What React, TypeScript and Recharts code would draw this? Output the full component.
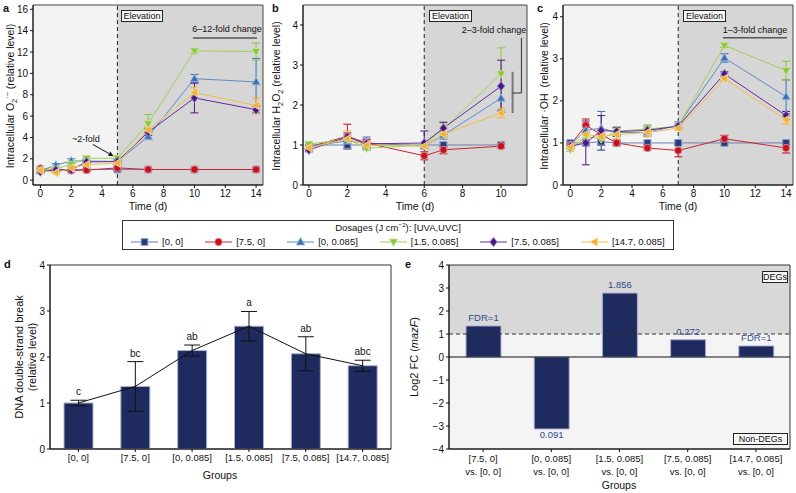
import React from 'react';
import {
  ComposedChart, Line, Bar, XAxis, YAxis, ErrorBar,
  ReferenceArea, ReferenceLine, LabelList,
} from 'recharts';

const FONT = '"Liberation Sans", Arial, Helvetica, sans-serif';

// ---------- series (legend) ----------
const DOSAGES = ['[0, 0]', '[7.5, 0]', '[0, 0.085]', '[1.5, 0.085]', '[7.5, 0.085]', '[14.7, 0.085]'];
const SHAPES = ['square', 'circle', 'up', 'down', 'diamond', 'left'];
const FILLS = ['#233a7c', '#c3141e', '#3b71b3', '#8cc63e', '#4a1786', '#f1b132'];
const LINES = ['#6f80b5', '#c8242d', '#5b8cc8', '#9fd055', '#5e2c9a', '#f3bd4d'];
const EDGES = ['#8d9cc6', '#e58f94', '#9cb9dd', '#c8e4a2', '#a78dc6', '#f8d996'];

// ---------- panel a : superoxide ----------
const A_TIMES = [0, 1, 2, 3, 5, 7, 10, 14];
const A_00 = [0.9, 1.0, 1.0, 1.0, 1.0, 1.0, 1.0, 1.0];
const A_75_0 = [1.1, 0.95, 0.9, 0.95, 1.15, 1.0, 1.0, 1.0];
const A_0_085 = [0.9, 1.4, 1.8, 1.8, 1.75, 4.1, 9.5, 9.2];
const A_15_085 = [0.95, 1.05, 1.5, 2.05, 2.05, 5.3, 12.1, 12.05];
const A_75_085 = [0.8, 0.95, 1.0, 1.7, 1.75, 4.5, 7.7, 6.6];
const A_147_085 = [0.9, 0.7, 1.15, 1.45, 1.6, 4.7, 8.2, 7.0];
const A_ERR_00 = [0.05, 0.05, 0.05, 0.05, 0.1, 0.05, 0.05, 0.05];
const A_ERR_75_0 = [0.15, 0.1, 0.1, 0.1, 0.15, 0.1, 0.1, 0.1];
const A_ERR_0_085 = [0.1, 0.15, 0.2, 0.2, 0.2, 0.3, 0.4, 2.2];
const A_ERR_15_085 = [0.1, 0.1, 0.2, 0.2, 0.2, 0.85, 0.2, 0.8];
const A_ERR_75_085 = [0.1, 0.1, 0.1, 0.1, 0.1, 0.3, 1.4, 0.3];
const A_ERR_147_085 = [0.1, 0.1, 0.1, 0.2, 0.2, 0.3, 0.5, 0.7];
const A_XTICKS = [0, 2, 4, 6, 8, 10, 12, 14];
const A_YTICKS = [0, 2, 4, 6, 8, 10, 12, 14, 16];

// ---------- panel b : H2O2 ----------
const B_TIMES = [0, 2, 3, 6, 7, 10];
const B_00 = [1.0, 1.0, 1.0, 1.0, 1.0, 1.0];
const B_75_0 = [0.95, 1.22, 1.05, 0.73, 0.88, 0.97];
const B_0_085 = [0.97, 1.1, 1.05, 0.97, 1.25, 2.17];
const B_15_085 = [1.02, 1.15, 0.92, 1.0, 1.4, 2.78];
const B_75_085 = [0.88, 1.2, 1.03, 1.05, 1.42, 2.47];
const B_147_085 = [0.93, 1.15, 1.0, 0.97, 1.27, 1.8];
const B_ERR_00 = [0.05, 0.1, 0.05, 0.05, 0.05, 0.05];
const B_ERR_75_0 = [0.05, 0.3, 0.1, 0.1, 0.1, 0.05];
const B_ERR_0_085 = [0.05, 0.1, 0.15, 0.05, 0.1, 0.3];
const B_ERR_15_085 = [0.05, 0.1, 0.05, 0.05, 0.15, 0.65];
const B_ERR_75_085 = [0.05, 0.1, 0.1, 0.3, 0.15, 0.65];
const B_ERR_147_085 = [0.05, 0.2, 0.05, 0.05, 0.05, 0.12];
const B_XTICKS = [0, 2, 4, 6, 8, 10];
const B_YTICKS = [0, 1, 2, 3, 4];

// ---------- panel c : hydroxyl radical ----------
const C_TIMES = [0, 1, 2, 3, 5, 7, 10, 14];
const C_00 = [1.0, 1.0, 1.03, 1.0, 1.0, 1.0, 1.0, 1.0];
const C_75_0 = [0.95, 1.42, 1.2, 1.0, 0.88, 0.82, 1.1, 0.88];
const C_0_085 = [0.95, 1.3, 1.35, 1.25, 1.25, 1.42, 3.02, 2.1];
const C_15_085 = [0.85, 1.15, 1.1, 1.28, 1.33, 1.4, 3.32, 2.72];
const C_75_085 = [0.92, 1.0, 1.3, 1.27, 1.3, 1.4, 2.64, 1.65];
const C_147_085 = [0.9, 1.2, 1.15, 1.2, 1.25, 1.35, 2.53, 1.55];
const C_ERR_00 = [0.05, 0.05, 0.2, 0.05, 0.05, 0.05, 0.05, 0.05];
const C_ERR_75_0 = [0.05, 0.15, 0.1, 0.05, 0.05, 0.15, 0.08, 0.12];
const C_ERR_0_085 = [0.05, 0.1, 0.4, 0.1, 0.1, 0.08, 0.1, 0.4];
const C_ERR_15_085 = [0.05, 0.1, 0.1, 0.1, 0.1, 0.05, 0.05, 0.22];
const C_ERR_75_085 = [0.05, 0.52, 0.35, 0.1, 0.1, 0.05, 0.05, 0.1];
const C_ERR_147_085 = [0.05, 0.2, 0.1, 0.1, 0.1, 0.05, 0.05, 0.1];
const C_XTICKS = [0, 2, 4, 6, 8, 10, 12, 14];
const C_YTICKS = [0, 1, 2, 3, 4];

// ---------- panel d : DNA double-strand break ----------
const D_GROUPS = ['[0, 0]', '[7.5, 0]', '[0, 0.085]', '[1.5, 0.085]', '[7.5, 0.085]', '[14.7, 0.085]'];
const D_DSB = [1.0, 1.36, 2.14, 2.67, 2.07, 1.81];
const D_ERR = [0.06, 0.54, 0.12, 0.32, 0.37, 0.12];
const D_LETTERS = ['c', 'bc', 'ab', 'a', 'ab', 'abc'];
const D_YTICKS = [0, 1, 2, 3, 4];

// ---------- panel e : mazF log2 FC ----------
const E_GROUPS = ['[7.5, 0]', '[0, 0.085]', '[1.5, 0.085]', '[7.5, 0.085]', '[14.7, 0.085]'];
const E_REF = 'vs. [0, 0]';
const E_FC = [1.35, -3.13, 2.78, 0.75, 0.48];
const E_NOTE = ['FDR=1', '0.091', '1.856', '0.272', 'FDR=1'];
const E_YTICKS = [-4, -3, -2, -1, 0, 1, 2, 3, 4];

// ---------- helpers ----------
function Marker({ shape, cx, cy, fill, stroke, r = 3.7 }: any) {
  const c = { fill, stroke, strokeWidth: 0.9 };
  switch (shape) {
    case 'square':
      return <rect x={cx - r * 0.9} y={cy - r * 0.9} width={r * 1.8} height={r * 1.8} {...c} />;
    case 'circle':
      return <circle cx={cx} cy={cy} r={r} {...c} />;
    case 'up':
      return <polygon points={`${cx},${cy - r * 1.2} ${cx + r * 1.15},${cy + r * 0.8} ${cx - r * 1.15},${cy + r * 0.8}`} {...c} />;
    case 'down':
      return <polygon points={`${cx},${cy + r * 1.2} ${cx + r * 1.15},${cy - r * 0.8} ${cx - r * 1.15},${cy - r * 0.8}`} {...c} />;
    case 'diamond':
      return <polygon points={`${cx},${cy - r * 1.25} ${cx + r},${cy} ${cx},${cy + r * 1.25} ${cx - r},${cy}`} {...c} />;
    default:
      return <polygon points={`${cx - r * 1.2},${cy} ${cx + r * 0.8},${cy - r * 1.15} ${cx + r * 0.8},${cy + r * 1.15}`} {...c} />;
  }
}

const makeDot = (k: number) => (p: any) => {
  const { cx, cy, index } = p;
  if (cx == null || cy == null || isNaN(cx) || isNaN(cy)) return <g key={`n${k}-${index}`} />;
  return (
    <g key={`d${k}-${index}`}>
      <Marker shape={SHAPES[k]} cx={cx} cy={cy} fill={FILLS[k]} stroke={EDGES[k]} />
    </g>
  );
};

const Arrow = (p: any) => {
  const { x1, y1, x2, y2 } = p;
  const ang = Math.atan2(y2 - y1, x2 - x1);
  const L = 5, W = 2.4;
  const bx = x2 - L * Math.cos(ang), by = y2 - L * Math.sin(ang);
  const px = -Math.sin(ang) * W, py = Math.cos(ang) * W;
  return (
    <g>
      <line x1={x1} y1={y1} x2={bx} y2={by} stroke="#111" strokeWidth={1} />
      <polygon points={`${x2},${y2} ${bx + px},${by + py} ${bx - px},${by - py}`} fill="#111" />
    </g>
  );
};

const tickStyle = { fontSize: 10, fill: '#111', fontFamily: FONT };

function buildRows(times: number[], series: number[][], errs: number[][]) {
  return times.map((t, i) => {
    const row: any = { t };
    series.forEach((s, k) => {
      row['v' + k] = s[i];
      row['e' + k] = errs[k][i];
    });
    return row;
  });
}

function LinePanel(props: any) {
  const { left, width, rows, domX, domY, ticksX, ticksY, elev, extra } = props;
  return (
    <div style={{ position: 'absolute', left, top: 0 }}>
      <ComposedChart width={width} height={201} data={rows} margin={{ top: 5, right: 2, bottom: 0, left: 0 }}>
        <ReferenceArea x1={domX[0]} x2={elev} y1={domY[0]} y2={domY[1]} fill="#f3f3f3" fillOpacity={1} stroke="none" />
        <ReferenceArea x1={elev} x2={domX[1]} y1={domY[0]} y2={domY[1]} fill="#d6d6d6" fillOpacity={1} stroke="none" />
        <XAxis dataKey="t" type="number" domain={domX} ticks={ticksX} allowDataOverflow interval={0}
          height={16} tickSize={3} tickMargin={2} stroke="#111" tick={tickStyle} />
        <YAxis type="number" domain={domY} ticks={ticksY} allowDataOverflow interval={0}
          width={32} tickSize={3} tickMargin={2} stroke="#111" tick={tickStyle} />
        <ReferenceLine x={elev} stroke="#222" strokeDasharray="4 3" strokeWidth={1} />
        {extra}
        {FILLS.map((col, k) => (
          <Line key={'l' + k} type="linear" dataKey={'v' + k} stroke={LINES[k]} strokeWidth={1}
            dot={makeDot(k)} activeDot={false} isAnimationActive={false}>
            <ErrorBar dataKey={'e' + k} width={4} stroke={col} strokeWidth={1} direction="y" />
          </Line>
        ))}
        <ReferenceArea x1={domX[0]} x2={domX[1]} y1={domY[0]} y2={domY[1]} fill="none" stroke="#444" strokeWidth={1} />
      </ComposedChart>
    </div>
  );
}

function CenterText({ x, y, children, size = 9, color = '#111', style = {} }: any) {
  return (
    <div style={{ position: 'absolute', left: x, top: y, transform: 'translate(-50%,-50%)', whiteSpace: 'nowrap', fontSize: size, color, lineHeight: 1, ...style }}>
      {children}
    </div>
  );
}

function VLabel({ x, y, children, size = 10.5 }: any) {
  return (
    <div style={{ position: 'absolute', left: x, top: y, transform: 'translate(-50%,-50%) rotate(-90deg)', whiteSpace: 'nowrap', fontSize: size, lineHeight: 1.2, textAlign: 'center', color: '#111' }}>
      {children}
    </div>
  );
}

function BoxLabel({ left, top, width, children }: any) {
  return (
    <div style={{ position: 'absolute', left, top, width, height: 12, boxSizing: 'border-box', border: '1px solid #222', background: '#f7f7f7', fontSize: 9, lineHeight: '10px', textAlign: 'center', color: '#111' }}>
      {children}
    </div>
  );
}

const Letter = ({ x, y, c }: any) => (
  <div style={{ position: 'absolute', left: x, top: y, fontSize: 11, fontWeight: 'bold', lineHeight: 1 }}>{c}</div>
);

const TwoLineTick = (p: any) => {
  const { x, y, payload } = p;
  return (
    <text x={x} y={y} textAnchor="middle" fontSize={9.5} fontFamily={FONT} fill="#111">
      <tspan x={x} dy={7.5}>{payload.value}</tspan>
      <tspan x={x} dy={13.5}>{E_REF}</tspan>
    </text>
  );
};

const FcLabel = (p: any) => {
  const { x, y, width, height, index } = p;
  const top = Math.min(y, y + height);
  const bot = Math.max(y, y + height);
  const neg = E_FC[index] < 0;
  return (
    <text x={x + width / 2} y={neg ? bot + 9.5 : top - 5} textAnchor="middle" fontSize={9.5} fontFamily={FONT} fill="#2f4a8c">
      {E_NOTE[index]}
    </text>
  );
};

export default function App() {
  const rowsA = buildRows(A_TIMES, [A_00, A_75_0, A_0_085, A_15_085, A_75_085, A_147_085],
    [A_ERR_00, A_ERR_75_0, A_ERR_0_085, A_ERR_15_085, A_ERR_75_085, A_ERR_147_085]);
  const rowsB = buildRows(B_TIMES, [B_00, B_75_0, B_0_085, B_15_085, B_75_085, B_147_085],
    [B_ERR_00, B_ERR_75_0, B_ERR_0_085, B_ERR_15_085, B_ERR_75_085, B_ERR_147_085]);
  const rowsC = buildRows(C_TIMES, [C_00, C_75_0, C_0_085, C_15_085, C_75_085, C_147_085],
    [C_ERR_00, C_ERR_75_0, C_ERR_0_085, C_ERR_15_085, C_ERR_75_085, C_ERR_147_085]);
  const rowsD = D_GROUPS.map((g, i) => ({ g, v: D_DSB[i], e: D_ERR[i], top: D_DSB[i] + D_ERR[i], letter: D_LETTERS[i] }));
  const rowsE = E_GROUPS.map((g, i) => ({ g, v: E_FC[i] }));

  const extraA = [
    <ReferenceLine key="a1" segment={[{ x: 9.9, y: 13.3 }, { x: 14.06, y: 13.3 }]} stroke="#555" strokeWidth={1.5} />,
    <ReferenceLine key="a2" segment={[{ x: 3.4, y: 3.35 }, { x: 4.75, y: 2.25 }]} shape={Arrow} />,
  ];
  const extraB = [
    <ReferenceLine key="b1" segment={[{ x: 10.6, y: 1.8 }, { x: 10.6, y: 2.83 }]} stroke="#777" strokeWidth={2} />,
    <ReferenceLine key="b2" segment={[{ x: 11.06, y: 2.3 }, { x: 11.06, y: 3.68 }]} stroke="#333" strokeWidth={1} />,
    <ReferenceLine key="b3" segment={[{ x: 10.6, y: 2.3 }, { x: 11.06, y: 2.3 }]} stroke="#333" strokeWidth={1} />,
  ];
  const extraC = [
    <ReferenceLine key="c1" segment={[{ x: 9.9, y: 3.5 }, { x: 14.06, y: 3.5 }]} stroke="#555" strokeWidth={1.5} />,
  ];

  return (
    <div style={{ position: 'absolute', left: 0, top: 0, width: 796, height: 493, background: '#fff', fontFamily: FONT, overflow: 'hidden', color: '#111' }}>
      {/* ---- panel a ---- */}
      <LinePanel left={1} width={264} rows={rowsA} domX={[-0.48, 14.45]} domY={[-0.45, 16.4]}
        ticksX={A_XTICKS} ticksY={A_YTICKS} elev={5} extra={extraA} />
      <BoxLabel left={121} top={10} width={42}>Elevation</BoxLabel>
      <CenterText x={227} y={29}>6–12-fold change</CenterText>
      <CenterText x={86} y={138.5}>~2-fold</CenterText>
      <VLabel x={12} y={96}>Intracellular O<sub style={{ fontSize: '0.7em' }}>2</sub><sup style={{ fontSize: '0.7em' }}>·−</sup> (relative level)</VLabel>
      <CenterText x={148} y={206} size={10.5}>Time (d)</CenterText>
      <Letter x={3} y={3} c="a" />

      {/* ---- panel b ---- */}
      <LinePanel left={271} width={258} rows={rowsB} domX={[-0.31, 11.35]} domY={[0, 4.5]}
        ticksX={B_XTICKS} ticksY={B_YTICKS} elev={6} extra={extraB} />
      <BoxLabel left={429} top={10} width={43}>Elevation</BoxLabel>
      <CenterText x={494} y={30}>2–3-fold change</CenterText>
      <VLabel x={278} y={96}>Intracellular H<sub style={{ fontSize: '0.7em' }}>2</sub>O<sub style={{ fontSize: '0.7em' }}>2</sub> (relative level)</VLabel>
      <CenterText x={415} y={206} size={10.5}>Time (d)</CenterText>
      <Letter x={272} y={3} c="b" />

      {/* ---- panel c ---- */}
      <LinePanel left={531} width={264} rows={rowsC} domX={[-0.48, 14.45]} domY={[0, 4.28]}
        ticksX={C_XTICKS} ticksY={C_YTICKS} elev={7} extra={extraC} />
      <BoxLabel left={683} top={10} width={43}>Elevation</BoxLabel>
      <CenterText x={755} y={30}>1–3-fold change</CenterText>
      <VLabel x={544} y={96}>Intracellular ·OH&nbsp; (relative level)</VLabel>
      <CenterText x={678} y={206} size={10.5}>Time (d)</CenterText>
      <Letter x={537} y={3} c="c" />

      {/* ---- legend ---- */}
      <div style={{ position: 'absolute', left: 122, top: 220, width: 552, height: 30, boxSizing: 'border-box', border: '1px solid #333', background: '#fff' }}>
        <div style={{ textAlign: 'center', fontSize: 9.5, lineHeight: '11px', marginTop: 1 }}>
          Dosages (J cm<sup style={{ fontSize: '0.65em', lineHeight: 0 }}>−2</sup>): [UVA,UVC]
        </div>
        <div style={{ display: 'flex', alignItems: 'center', gap: 22, paddingLeft: 8, marginTop: 4 }}>
          {DOSAGES.map((d, k) => (
            <div key={d} style={{ display: 'flex', alignItems: 'center', fontSize: 9.5, lineHeight: '10px' }}>
              <svg width={27} height={10} style={{ marginRight: 4 }}>
                <line x1={0} y1={5} x2={27} y2={5} stroke={LINES[k]} strokeWidth={1} />
                <Marker shape={SHAPES[k]} cx={13.5} cy={5} fill={FILLS[k]} stroke={EDGES[k]} />
              </svg>
              <span>{d}</span>
            </div>
          ))}
        </div>
      </div>

      {/* ---- panel d ---- */}
      <div style={{ position: 'absolute', left: 0, top: 255 }}>
        <ComposedChart width={393} height={220} data={rowsD} margin={{ top: 10, right: 2, bottom: 6, left: 0 }}>
          <XAxis dataKey="g" type="category" interval={0} height={20} tickSize={3} tickMargin={2} stroke="#111"
            tick={{ fontSize: 9.5, fill: '#111', fontFamily: FONT }} />
          <YAxis type="number" domain={[0, 4]} ticks={D_YTICKS} allowDataOverflow interval={0} width={50}
            tickSize={3} tickMargin={2} stroke="#111" tick={tickStyle} />
          <Bar dataKey="v" barSize={29} fill="#1f2a5f" stroke="#a9b1cf" strokeWidth={1} isAnimationActive={false}>
            <ErrorBar dataKey="e" width={8} stroke="#111" strokeWidth={1} direction="y" />
          </Bar>
          <Line dataKey="v" stroke="#111" strokeWidth={1} dot={false} activeDot={false} isAnimationActive={false} />
          <Line dataKey="top" stroke="none" dot={false} activeDot={false} isAnimationActive={false}>
            <LabelList dataKey="letter" position="top" offset={5} fontSize={10} fill="#111" fontFamily={FONT} />
          </Line>
          <ReferenceArea y1={0} y2={4} fill="none" stroke="#333" strokeWidth={1} />
        </ComposedChart>
      </div>
      <VLabel x={26} y={357} size={11}>DNA double-strand break<br />(relative level)</VLabel>
      <CenterText x={220} y={475} size={10.5}>Groups</CenterText>
      <Letter x={4} y={259} c="d" />

      {/* ---- panel e ---- */}
      <div style={{ position: 'absolute', left: 400, top: 255 }}>
        <ComposedChart width={392} height={238} data={rowsE} margin={{ top: 10, right: 2, bottom: 24, left: 0 }}>
          <ReferenceArea y1={1} y2={4} fill="#d8d8d8" fillOpacity={1} stroke="none" />
          <ReferenceArea y1={-4} y2={1} fill="#f4f4f4" fillOpacity={1} stroke="none" />
          <XAxis dataKey="g" type="category" interval={0} height={20} tickSize={3} tickMargin={2} stroke="#111"
            tick={<TwoLineTick />} />
          <YAxis type="number" domain={[-4, 4]} ticks={E_YTICKS} allowDataOverflow interval={0} width={49}
            tickSize={3} tickMargin={2} stroke="#111" tick={tickStyle}
            tickFormatter={(v: number) => (v < 0 ? `−${-v}` : `${v}`)} />
          <ReferenceLine y={1} stroke="#333" strokeDasharray="4 3" strokeWidth={1} />
          <Bar dataKey="v" barSize={35} fill="#1f2a5f" stroke="#a9b1cf" strokeWidth={1} isAnimationActive={false}>
            <LabelList dataKey="v" content={FcLabel} />
          </Bar>
          <ReferenceLine y={0} stroke="#111" strokeWidth={1} />
          <ReferenceArea y1={-4} y2={4} fill="none" stroke="#333" strokeWidth={1} />
        </ComposedChart>
      </div>
      <BoxLabel left={762} top={271} width={26}>DEGs</BoxLabel>
      <BoxLabel left={733} top={433} width={55}>Non-DEGs</BoxLabel>
      <VLabel x={415} y={357} size={11}>Log2 FC (<i>mazF</i>)</VLabel>
      <CenterText x={619} y={485} size={10.5}>Groups</CenterText>
      <Letter x={405} y={259} c="e" />
    </div>
  );
}
